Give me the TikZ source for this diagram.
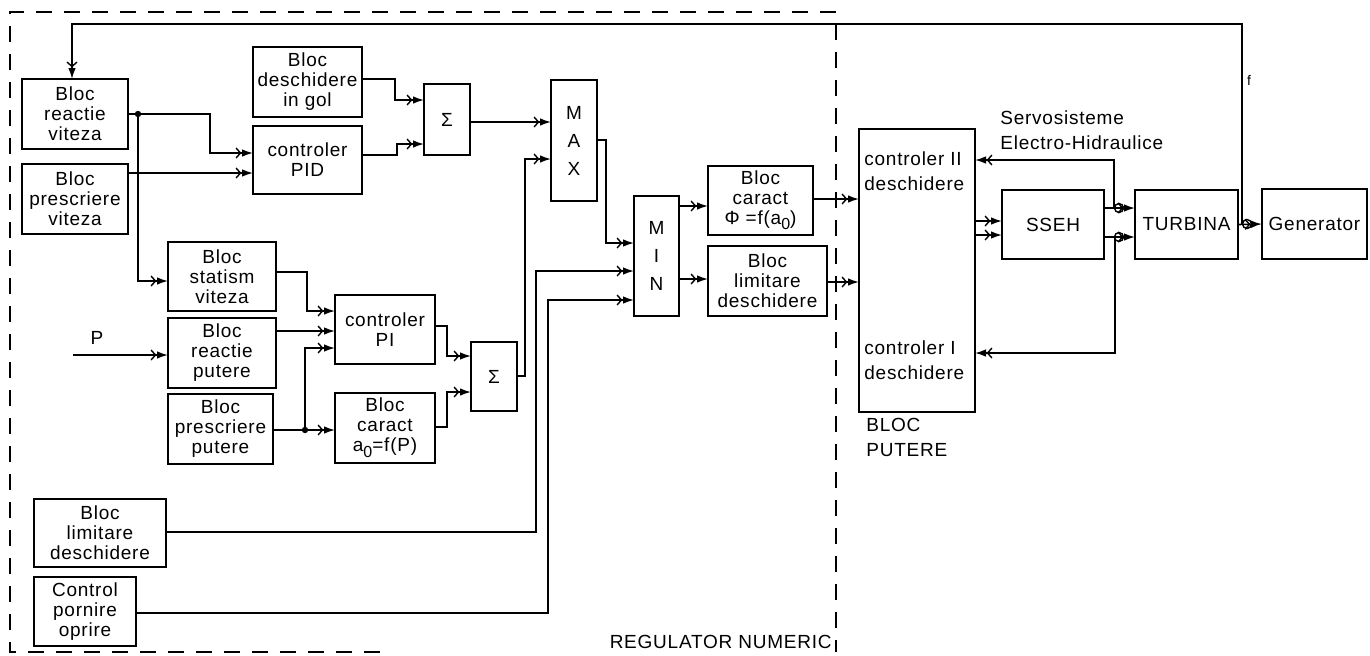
\documentclass[tikz,border=0pt]{standalone}
\usepackage{fontspec}
\setmainfont{Liberation Sans}[LetterSpace=4]
\usetikzlibrary{arrows.meta}
\begin{document}
\begin{tikzpicture}[x=0.5pt,y=-0.5pt,
  box/.style={draw,line width=0.95pt,inner sep=0pt,outer sep=0pt,align=center,font=\fontsize{9.5}{10}\selectfont},
  arr/.style={draw,line width=0.8pt,-{Straight Barb[length=2.2pt,width=5pt,line width=0.7pt,sep=0.3pt]Latex[length=5.5pt,width=3.8pt]}},
  lbl/.style={font=\fontsize{9.5}{12.5}\selectfont,inner sep=0pt,align=left},
  dot/.style={circle,fill,inner sep=0pt,minimum size=3.2pt},
  ring/.style={circle,draw,line width=0.7pt,inner sep=0pt,minimum size=4.5pt}]
\useasboundingbox (0,0) rectangle (1370,655);
% dashed frame
\draw[line width=0.8pt,dash pattern=on 8pt off 6pt] (380,652) -- (10,652) -- (10,12) -- (836,12) -- (836,652);
% boxes
\node[box,minimum width=53pt,minimum height=35pt] (rv) at (75,114) {Bloc\\reactie\\viteza};
\node[box,minimum width=53pt,minimum height=35pt] (pv) at (75,199) {Bloc\\prescriere\\viteza};
\node[box,minimum width=54.5pt,minimum height=35pt] (dg) at (307.5,82) {Bloc\\deschidere\\in gol};
\node[box,minimum width=54.5pt,minimum height=34pt] (pid) at (307.5,160) {controler\\PID};
\node[box,minimum width=23pt,minimum height=35.5pt] (s1) at (447,119.5) {Σ};
\node[box,minimum width=23pt,minimum height=60.5pt,font=\fontsize{9.5}{14}\selectfont] (max) at (574,140.5) {M\\A\\X};
\node[box,minimum width=22.5pt,minimum height=60pt,font=\fontsize{9.5}{14}\selectfont] (min) at (656.5,256) {M\\I\\N};
\node[box,minimum width=52.5pt,minimum height=34.5pt] (phi) at (760.5,200.5) {Bloc\\caract\\Φ =f(a\raisebox{-0.5ex}{\fontsize{8}{8}\selectfont 0})};
\node[box,minimum width=59.5pt,minimum height=35pt] (lim2) at (767.5,281) {Bloc\\limitare\\deschidere};
\node[box,minimum width=58pt,minimum height=141.5pt] (bp) at (917,270.5) {};
\node[box,minimum width=51pt,minimum height=34.5pt] (sseh) at (1053,224.5) {SSEH};
\node[box,minimum width=51.5pt,minimum height=34.5pt] (turb) at (1186.5,224.5) {TURBINA};
\node[box,minimum width=52.5pt,minimum height=35pt] (gen) at (1314.5,224) {Generator};
\node[box,minimum width=54pt,minimum height=34.5pt] (sv) at (222,276.5) {Bloc\\statism\\viteza};
\node[box,minimum width=54pt,minimum height=35pt] (rp) at (222,353) {Bloc\\reactie\\putere};
\node[box,minimum width=52.5pt,minimum height=35pt] (pp) at (220.5,429) {Bloc\\prescriere\\putere};
\node[box,minimum width=50pt,minimum height=34.5pt] (pi) at (385,329.5) {controler\\PI};
\node[box,minimum width=50pt,minimum height=35pt] (ca) at (385,428) {Bloc\\caract\\a\raisebox{-0.6ex}{\fontsize{8}{8}\selectfont 0}=f(P)};
\node[box,minimum width=23pt,minimum height=34.5pt] (s2) at (494,376.5) {Σ};
\node[box,minimum width=66pt,minimum height=34pt] (lim1) at (100,533) {Bloc\\limitare\\deschidere};
\node[box,minimum width=51pt,minimum height=34.5pt] (cpo) at (85,611.5) {Control\\pornire\\oprire};
% texts
\node[lbl,anchor=west] (t2) at (864,171) {controler II\\deschidere};
\node[lbl,anchor=west] (t1) at (864,360) {controler I\\deschidere};
\node[lbl,anchor=north west] (bpl) at (866,418) {BLOC\\PUTERE};
\node[lbl,anchor=west] (servo) at (1000,130) {Servosisteme\\Electro-Hidraulice};
\node[lbl,anchor=east] (reg) at (832,642) {REGULATOR NUMERIC};
\node[lbl] (plbl) at (97,338) {P};
\node[lbl,font=\fontsize{7}{8}\selectfont] (flbl) at (1249,80) {f};
% coordinates
\coordinate (fb) at (1242,224);
\coordinate (pin) at (73,355);
\node[dot] (j1) at (138,114) {};
\node[dot] (j2) at (305,430) {};
% connectors
\draw[arr] (fb) |- (72,24) -- (rv.north -| 72,0);
\draw[arr] (rv.east) -- (210,114) |- (pid.west |- 0,153);
\draw[arr] (j1.center) |- (sv.west |- 0,281);
\draw[arr] (pv.east |- 0,173) -- (pid.west |- 0,173);
\draw[arr] (dg.east |- 0,79) -- (395,79) |- (s1.west |- 0,100);
\draw[arr] (pid.east |- 0,155) -- (397,155) |- (s1.west |- 0,144);
\draw[arr] (s1.east |- 0,122) -- (max.west |- 0,122);
\draw[arr] (s2.east |- 0,376) -- (525,376) |- (max.west |- 0,159);
\draw[arr] (max.east |- 0,140) -- (606,140) |- (min.west |- 0,243);
\draw[arr] (lim1.east |- 0,532) -- (536,532) |- (min.west |- 0,271);
\draw[arr] (cpo.east |- 0,613) -- (548,613) |- (min.west |- 0,300);
\draw[arr] (min.east |- 0,206) -- (phi.west |- 0,206);
\draw[arr] (min.east |- 0,279) -- (lim2.west |- 0,279);
\draw[arr] (phi.east |- 0,199) -- (bp.west |- 0,199);
\draw[arr] (lim2.east |- 0,282) -- (bp.west |- 0,282);
\draw[arr] (bp.east |- 0,221) -- (sseh.west |- 0,221);
\draw[arr] (bp.east |- 0,235) -- (sseh.west |- 0,235);
\draw[arr] (sseh.east |- 0,208) -- (turb.west |- 0,208);
\draw[arr] (sseh.east |- 0,237) -- (turb.west |- 0,237);
\draw[arr] (1114,208) |- (bp.east |- 0,160);
\draw[arr] (1115,237) |- (bp.east |- 0,353);
\draw[arr] (turb.east) -- (gen.west);
\draw[arr] (pin) -- (rp.west |- 0,355);
\draw[arr] (sv.east |- 0,272) -- (307,272) |- (pi.west |- 0,311);
\draw[arr] (rp.east |- 0,331) -- (pi.west |- 0,331);
\draw[arr] (pp.east |- 0,430) -- (ca.west |- 0,430);
\draw[arr] (j2.center) |- (pi.west |- 0,348);
\draw[arr] (pi.east |- 0,326) -- (447,326) |- (s2.west |- 0,356);
\draw[arr] (ca.east |- 0,427) -- (447,427) |- (s2.west |- 0,392);
% small rings
\node[ring] (r1) at (1119,208) {};
\node[ring] (r2) at (1119,237) {};
\node[ring] (r3) at (1247,224) {};
\end{tikzpicture}
\end{document}
